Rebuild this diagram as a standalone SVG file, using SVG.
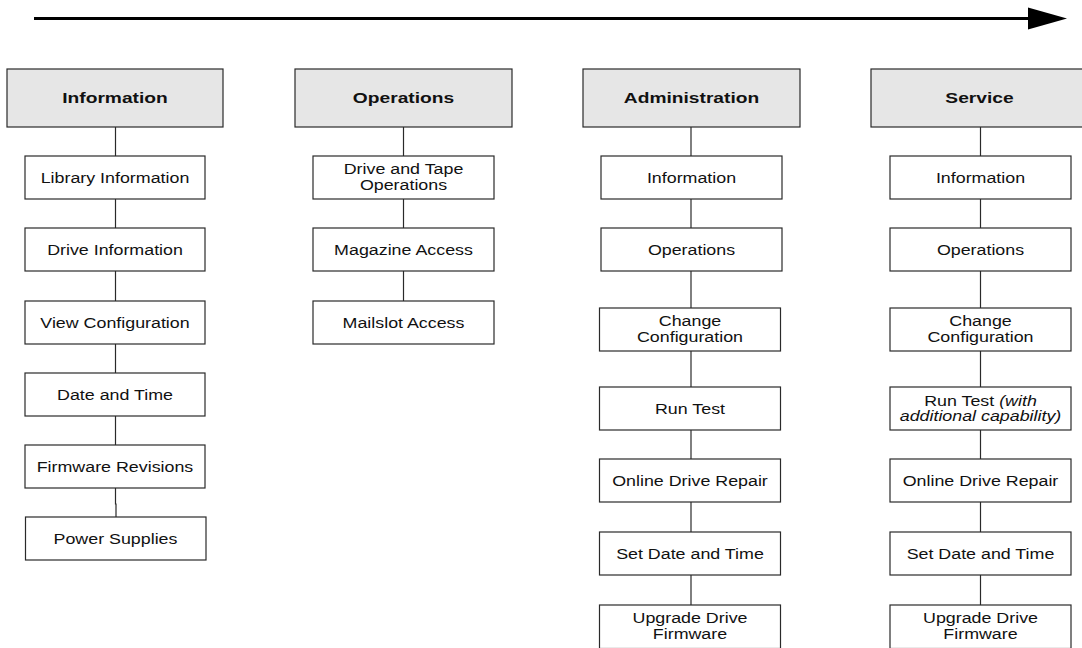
<svg xmlns="http://www.w3.org/2000/svg" width="1082" height="648" viewBox="0 0 1082 648">
<style>
.hdr{fill:#e6e6e6;stroke:#2a2a2a;stroke-width:1.2}
.box{fill:#fff;stroke:#2a2a2a;stroke-width:1.2}
.t{font-family:"Liberation Sans",Arial,sans-serif;font-size:15px;fill:#111;text-anchor:middle}
.b{font-weight:bold}
.i{font-style:italic}
.c{stroke:#2a2a2a;stroke-width:1.2;fill:none}
</style>
<g id="timeline">
<line x1="34" y1="18.5" x2="1030" y2="18.5" stroke="#000" stroke-width="3"/>
<polygon points="1028,7.5 1067,18.5 1028,29.5" fill="#000"/>
</g>
<g id="connectors">
<line class="c" x1="115.5" y1="127" x2="115.5" y2="156"/>
<line class="c" x1="115.5" y1="199" x2="115.5" y2="228"/>
<line class="c" x1="115.5" y1="271" x2="115.5" y2="301"/>
<line class="c" x1="115.5" y1="344" x2="115.5" y2="373"/>
<line class="c" x1="115.5" y1="416" x2="115.5" y2="445"/>
<path class="c" d="M115.5 488 V504 H116 V517"/>
<line class="c" x1="403.5" y1="127" x2="403.5" y2="156"/>
<line class="c" x1="403.5" y1="199" x2="403.5" y2="228"/>
<line class="c" x1="403.5" y1="271" x2="403.5" y2="301"/>
<line class="c" x1="691" y1="127" x2="691" y2="156"/>
<line class="c" x1="691" y1="199" x2="691" y2="228"/>
<line class="c" x1="691" y1="271" x2="691" y2="308"/>
<line class="c" x1="691" y1="351" x2="691" y2="387"/>
<line class="c" x1="691" y1="430" x2="691" y2="459"/>
<line class="c" x1="691" y1="502" x2="691" y2="532"/>
<line class="c" x1="691" y1="575" x2="691" y2="605"/>
<line class="c" x1="980.5" y1="127" x2="980.5" y2="156"/>
<line class="c" x1="980.5" y1="199" x2="980.5" y2="228"/>
<line class="c" x1="980.5" y1="271" x2="980.5" y2="308"/>
<line class="c" x1="980.5" y1="351" x2="980.5" y2="387"/>
<line class="c" x1="980.5" y1="430" x2="980.5" y2="459"/>
<line class="c" x1="980.5" y1="502" x2="980.5" y2="532"/>
<line class="c" x1="980.5" y1="575" x2="980.5" y2="605"/>
</g>
<g id="h-information"><rect class="hdr" x="7" y="69" width="216" height="58"/><text class="t b" transform="translate(115 103) scale(1.28 1)">Information</text></g>
<g id="h-operations"><rect class="hdr" x="295" y="69" width="217" height="58"/><text class="t b" transform="translate(403.5 103) scale(1.28 1)">Operations</text></g>
<g id="h-administration"><rect class="hdr" x="583" y="69" width="217" height="58"/><text class="t b" transform="translate(691.5 103) scale(1.28 1)">Administration</text></g>
<g id="h-service"><rect class="hdr" x="871" y="69" width="217" height="58"/><text class="t b" transform="translate(979.5 103) scale(1.28 1)">Service</text></g>

<g id="i-library"><rect class="box" x="25" y="156" width="180" height="43"/><text class="t" transform="translate(115 182.5) scale(1.19 1)">Library Information</text></g>
<g id="i-drive"><rect class="box" x="25" y="228" width="180" height="43"/><text class="t" transform="translate(115 254.5) scale(1.19 1)">Drive Information</text></g>
<g id="i-view"><rect class="box" x="25" y="301" width="180" height="43"/><text class="t" transform="translate(115 327.5) scale(1.19 1)">View Configuration</text></g>
<g id="i-date"><rect class="box" x="25" y="373" width="180" height="43"/><text class="t" transform="translate(115 399.5) scale(1.19 1)">Date and Time</text></g>
<g id="i-firmware"><rect class="box" x="25" y="445" width="180" height="43"/><text class="t" transform="translate(115 471.5) scale(1.19 1)">Firmware Revisions</text></g>
<g id="i-power"><rect class="box" x="25.5" y="517" width="180.5" height="43"/><text class="t" transform="translate(115.5 543.5) scale(1.19 1)">Power Supplies</text></g>

<g id="o-drivetape"><rect class="box" x="313" y="156" width="181" height="43"/><text class="t" transform="translate(403.5 174) scale(1.19 1)"><tspan x="0">Drive and Tape</tspan><tspan x="0" dy="16.5">Operations</tspan></text></g>
<g id="o-magazine"><rect class="box" x="313" y="228" width="181" height="43"/><text class="t" transform="translate(403.5 254.5) scale(1.19 1)">Magazine Access</text></g>
<g id="o-mailslot"><rect class="box" x="313" y="301" width="181" height="43"/><text class="t" transform="translate(403.5 327.5) scale(1.19 1)">Mailslot Access</text></g>

<g id="a-information"><rect class="box" x="601" y="156" width="181" height="43"/><text class="t" transform="translate(691.5 182.5) scale(1.19 1)">Information</text></g>
<g id="a-operations"><rect class="box" x="601" y="228" width="181" height="43"/><text class="t" transform="translate(691.5 254.5) scale(1.19 1)">Operations</text></g>
<g id="a-change"><rect class="box" x="599.5" y="308" width="181" height="43"/><text class="t" transform="translate(690 326) scale(1.19 1)"><tspan x="0">Change</tspan><tspan x="0" dy="16.5">Configuration</tspan></text></g>
<g id="a-runtest"><rect class="box" x="599.5" y="387" width="181" height="43"/><text class="t" transform="translate(690 413.5) scale(1.19 1)">Run Test</text></g>
<g id="a-repair"><rect class="box" x="599.5" y="459" width="181" height="43"/><text class="t" transform="translate(690 485.5) scale(1.19 1)">Online Drive Repair</text></g>
<g id="a-setdate"><rect class="box" x="599.5" y="532" width="181" height="43"/><text class="t" transform="translate(690 558.5) scale(1.19 1)">Set Date and Time</text></g>
<g id="a-upgrade"><rect class="box" x="599.5" y="605" width="181" height="43.5"/><text class="t" transform="translate(690 622.5) scale(1.19 1)"><tspan x="0">Upgrade Drive</tspan><tspan x="0" dy="16.5">Firmware</tspan></text></g>

<g id="s-information"><rect class="box" x="890" y="156" width="181" height="43"/><text class="t" transform="translate(980.5 182.5) scale(1.19 1)">Information</text></g>
<g id="s-operations"><rect class="box" x="890" y="228" width="181" height="43"/><text class="t" transform="translate(980.5 254.5) scale(1.19 1)">Operations</text></g>
<g id="s-change"><rect class="box" x="890" y="308" width="181" height="43"/><text class="t" transform="translate(980.5 326) scale(1.19 1)"><tspan x="0">Change</tspan><tspan x="0" dy="16.5">Configuration</tspan></text></g>
<g id="s-runtest"><rect class="box" x="890" y="387" width="181" height="43"/><text class="t" transform="translate(980.5 406) scale(1.19 1)"><tspan x="0">Run Test <tspan class="i">(with</tspan></tspan><tspan x="0" dy="15.5" class="i">additional capability)</tspan></text></g>
<g id="s-repair"><rect class="box" x="890" y="459" width="181" height="43"/><text class="t" transform="translate(980.5 485.5) scale(1.19 1)">Online Drive Repair</text></g>
<g id="s-setdate"><rect class="box" x="890" y="532" width="181" height="43"/><text class="t" transform="translate(980.5 558.5) scale(1.19 1)">Set Date and Time</text></g>
<g id="s-upgrade"><rect class="box" x="890" y="605" width="181" height="43.5"/><text class="t" transform="translate(980.5 622.5) scale(1.19 1)"><tspan x="0">Upgrade Drive</tspan><tspan x="0" dy="16.5">Firmware</tspan></text></g>
</svg>
